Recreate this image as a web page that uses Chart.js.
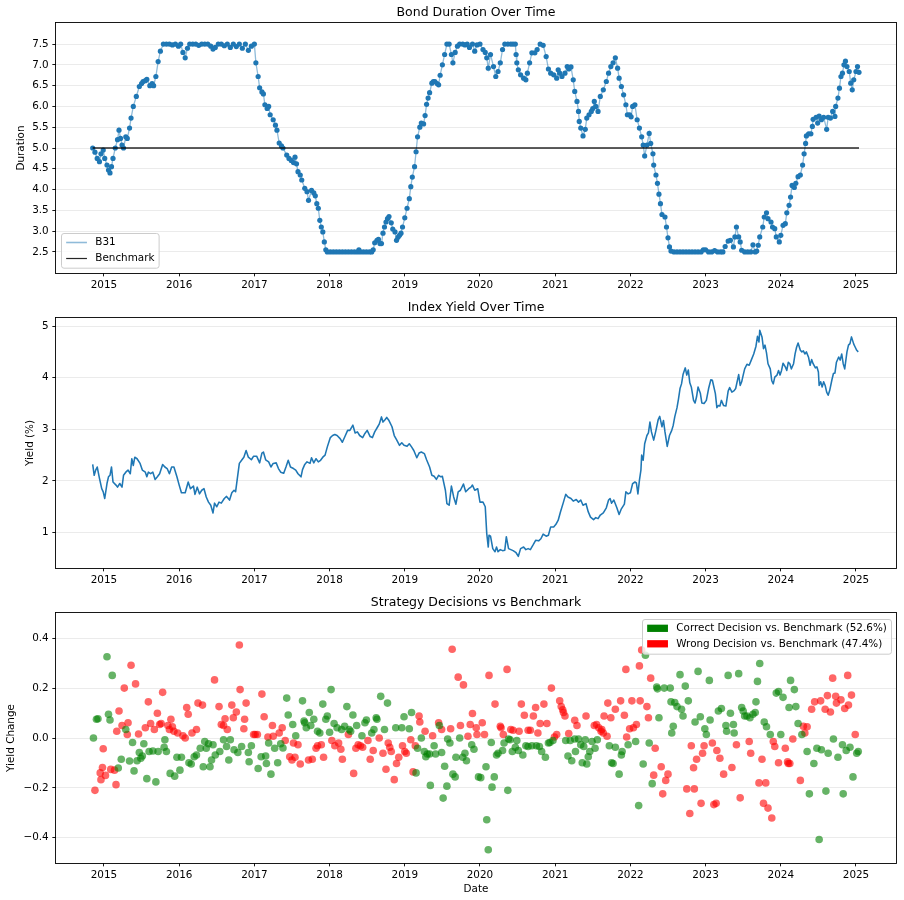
<!DOCTYPE html>
<html>
<head>
<meta charset="utf-8">
<script src="https://cdn.jsdelivr.net/npm/chart.js@4.4.1/dist/chart.umd.min.js"></script>
<style>
html,body{margin:0;padding:0;background:#fff;}
#wrap{position:relative;width:904px;height:900px;background:#fff;}
canvas{position:absolute;left:0;}
</style>
</head>
<body>
<div id="wrap">
<canvas id="c1" width="904" height="295" style="top:0px;width:904px;height:295px"></canvas>
<canvas id="c2" width="904" height="295" style="top:295px;width:904px;height:295px"></canvas>
<canvas id="c3" width="904" height="310" style="top:590px;width:904px;height:310px"></canvas>
</div>
<script>
// ---------------- DATA ----------------
const yearTicks = [2015,2016,2017,2018,2019,2020,2021,2022,2023,2024,2025];
const durationTicks = [2.5,3.0,3.5,4.0,4.5,5.0,5.5,6.0,6.5,7.0,7.5];
const yieldTicks = [1,2,3,4,5];
const changeTicks = [-0.4,-0.2,0.0,0.2,0.4];
const benchmarkValue = 5.0;

const durationDates = [
2014.85,2014.88,2014.91,2014.94,2014.96,2014.99,2015.01,2015.04,2015.06,2015.08,2015.10,2015.12,2015.15,2015.18,2015.20,2015.22,2015.24,2015.26,2015.29,2015.31,
2015.34,2015.36,2015.39,2015.43,2015.47,2015.50,2015.52,2015.55,2015.57,2015.61,2015.64,2015.66,2015.69,2015.72,2015.75,2015.79,2015.83,2015.87,2015.91,2015.95,
2015.99,2016.02,2016.05,2016.08,2016.11,2016.14,2016.18,2016.22,2016.26,2016.30,2016.34,2016.38,2016.42,2016.45,2016.48,2016.52,2016.56,2016.60,2016.64,2016.68,
2016.72,2016.76,2016.80,2016.84,2016.88,2016.92,2016.96,2017.00,2017.02,2017.05,2017.07,2017.10,2017.12,2017.14,2017.17,2017.19,2017.21,2017.25,2017.28,2017.30,
2017.33,2017.36,2017.38,2017.43,2017.46,2017.49,2017.52,2017.54,2017.56,2017.58,2017.61,2017.63,2017.67,2017.70,2017.72,2017.76,2017.79,2017.81,2017.83,2017.85,
2017.87,2017.89,2017.91,2017.93,2017.95,2017.97,2018.01,2018.05,2018.09,2018.13,2018.17,2018.21,2018.25,2018.29,2018.33,2018.37,2018.39,2018.41,2018.45,2018.49,
2018.53,2018.56,2018.58,2018.60,2018.63,2018.65,2018.67,2018.69,2018.71,2018.73,2018.75,2018.77,2018.79,2018.82,2018.84,2018.87,2018.89,2018.91,2018.93,2018.95,
2018.97,2019.00,2019.03,2019.06,2019.08,2019.10,2019.13,2019.15,2019.17,2019.20,2019.22,2019.25,2019.27,2019.29,2019.31,2019.33,2019.36,2019.38,2019.40,2019.43,
2019.45,2019.47,2019.50,2019.53,2019.56,2019.59,2019.62,2019.64,2019.67,2019.70,2019.73,2019.77,2019.80,2019.83,2019.86,2019.90,2019.93,2019.96,2020.00,2020.04,
2020.07,2020.09,2020.11,2020.14,2020.18,2020.21,2020.24,2020.27,2020.30,2020.33,2020.37,2020.41,2020.44,2020.47,2020.48,2020.49,2020.51,2020.54,2020.58,2020.61,
2020.63,2020.66,2020.69,2020.73,2020.76,2020.80,2020.84,2020.88,2020.91,2020.94,2020.98,2021.02,2021.04,2021.06,2021.09,2021.13,2021.16,2021.18,2021.21,2021.24,
2021.26,2021.29,2021.31,2021.32,2021.34,2021.37,2021.40,2021.42,2021.45,2021.48,2021.50,2021.52,2021.54,2021.57,2021.60,2021.64,2021.68,2021.71,2021.74,2021.77,
2021.80,2021.83,2021.85,2021.88,2021.91,2021.94,2021.96,2021.99,2022.01,2022.03,2022.06,2022.09,2022.12,2022.15,2022.17,2022.19,2022.22,2022.25,2022.27,2022.30,
2022.31,2022.34,2022.36,2022.38,2022.40,2022.42,2022.46,2022.48,2022.50,2022.52,2022.54,2022.58,2022.62,2022.66,2022.70,2022.74,2022.78,2022.82,2022.86,2022.90,
2022.94,2022.97,2023.00,2023.04,2023.08,2023.12,2023.16,2023.20,2023.23,2023.26,2023.30,2023.33,2023.37,2023.39,2023.41,2023.44,2023.46,2023.48,2023.52,2023.56,
2023.60,2023.63,2023.66,2023.68,2023.70,2023.72,2023.76,2023.78,2023.81,2023.83,2023.87,2023.89,2023.92,2023.94,2023.98,2024.00,2024.03,2024.06,2024.08,2024.11,
2024.13,2024.15,2024.18,2024.20,2024.23,2024.26,2024.29,2024.31,2024.33,2024.34,2024.37,2024.40,2024.42,2024.43,2024.47,2024.49,2024.51,2024.54,2024.57,2024.61,
2024.63,2024.66,2024.69,2024.72,2024.73,2024.76,2024.78,2024.80,2024.82,2024.84,2024.86,2024.88,2024.91,2024.93,2024.95,2024.97,2025.00,2025.02,2025.04
];
const durationValues = [
5.00,4.90,4.75,4.67,4.86,4.95,4.75,4.59,4.47,4.40,4.55,4.75,5.00,5.20,5.43,5.23,5.07,5.00,5.27,5.23,
5.48,5.72,6.00,6.24,6.48,6.55,6.60,6.62,6.65,6.50,6.55,6.50,6.72,7.08,7.33,7.50,7.50,7.50,7.48,7.50,
7.45,7.50,7.30,7.17,7.40,7.50,7.50,7.50,7.47,7.50,7.50,7.50,7.45,7.38,7.42,7.50,7.50,7.46,7.50,7.42,
7.50,7.44,7.50,7.40,7.50,7.35,7.45,7.50,7.05,6.72,6.45,6.35,6.30,6.04,5.95,6.00,5.80,5.68,5.55,5.43,
5.12,5.05,5.00,4.83,4.75,4.70,4.65,4.78,4.62,4.43,4.35,4.23,4.03,3.95,3.74,3.98,3.92,3.85,3.66,3.55,
3.26,3.10,2.98,2.74,2.55,2.50,2.50,2.50,2.50,2.50,2.50,2.50,2.50,2.50,2.50,2.50,2.55,2.50,2.50,2.50,
2.50,2.50,2.55,2.72,2.78,2.80,2.70,2.70,2.95,3.10,3.22,3.30,3.35,3.20,3.05,2.98,2.78,2.85,2.90,2.95,
3.10,3.32,3.55,3.78,4.07,4.30,4.55,4.91,5.27,5.50,5.60,5.58,5.78,6.05,6.20,6.33,6.56,6.60,6.60,6.55,
6.52,6.75,7.00,7.25,7.50,7.50,7.25,7.05,7.30,7.45,7.50,7.50,7.48,7.50,7.42,7.50,7.33,7.48,7.50,7.37,
7.30,7.17,6.92,7.25,6.96,6.72,6.84,7.05,7.37,7.50,7.50,7.50,7.50,7.50,7.25,7.05,6.88,6.76,6.68,6.64,
6.80,7.05,7.29,7.29,7.37,7.50,7.47,7.20,6.90,6.80,6.76,6.68,6.88,6.80,6.72,6.80,6.96,6.90,6.95,6.64,
6.36,6.12,5.88,5.64,5.48,5.29,5.45,5.72,5.80,5.88,5.95,6.12,6.00,5.88,6.24,6.40,6.60,6.80,6.96,7.05,
7.17,6.92,6.68,6.48,6.28,6.04,5.80,5.80,5.75,6.00,6.04,5.68,5.48,5.27,5.07,4.81,5.07,5.35,5.11,4.86,
4.59,4.35,4.15,3.89,3.66,3.40,3.34,3.10,2.84,2.62,2.52,2.50,2.50,2.50,2.50,2.50,2.50,2.50,2.50,2.50,
2.50,2.55,2.55,2.50,2.50,2.53,2.50,2.50,2.50,2.63,2.76,2.78,2.62,2.86,3.10,2.86,2.74,2.54,2.50,2.50,
2.50,2.67,2.50,2.52,2.66,2.86,3.10,3.34,3.44,3.30,3.22,3.10,3.06,2.86,2.74,2.90,3.14,3.18,3.44,3.62,
3.82,4.10,4.05,4.15,4.31,4.35,4.59,4.86,5.11,5.29,5.34,5.34,5.52,5.69,5.74,5.60,5.77,5.68,5.74,5.45,
5.74,5.72,5.88,5.76,6.00,6.20,6.44,6.72,6.80,7.00,7.09,6.96,6.84,6.56,6.40,6.64,6.84,6.96,6.82
];

const yieldDates = [
2014.85,2014.87,2014.89,2014.91,2014.94,2014.97,2014.99,2015.01,2015.04,2015.06,2015.08,2015.10,2015.12,2015.16,2015.18,2015.21,2015.24,2015.26,2015.29,2015.32,
2015.35,2015.37,2015.39,2015.41,2015.44,2015.48,2015.51,2015.55,2015.57,2015.59,2015.62,2015.65,2015.68,2015.71,2015.74,2015.78,2015.81,2015.84,2015.87,2015.90,
2015.93,2015.97,2016.00,2016.03,2016.08,2016.12,2016.15,2016.19,2016.21,2016.24,2016.27,2016.30,2016.33,2016.36,2016.39,2016.42,2016.45,2016.47,2016.50,2016.53,
2016.56,2016.60,2016.63,2016.67,2016.70,2016.73,2016.75,2016.77,2016.80,2016.83,2016.86,2016.89,2016.92,2016.96,2016.99,2017.03,2017.07,2017.10,2017.12,2017.15,
2017.19,2017.22,2017.25,2017.29,2017.32,2017.35,2017.39,2017.42,2017.45,2017.48,2017.52,2017.55,2017.58,2017.62,2017.64,2017.67,2017.70,2017.74,2017.76,2017.79,
2017.82,2017.85,2017.88,2017.91,2017.94,2017.97,2018.01,2018.04,2018.07,2018.10,2018.14,2018.17,2018.21,2018.24,2018.27,2018.31,2018.34,2018.37,2018.40,2018.44,
2018.47,2018.50,2018.54,2018.57,2018.60,2018.64,2018.66,2018.69,2018.71,2018.74,2018.76,2018.79,2018.83,2018.86,2018.89,2018.93,2018.96,2018.99,2019.03,2019.06,
2019.09,2019.12,2019.16,2019.19,2019.22,2019.26,2019.29,2019.33,2019.36,2019.39,2019.42,2019.45,2019.48,2019.50,2019.54,2019.56,2019.59,2019.62,2019.65,2019.68,
2019.71,2019.74,2019.78,2019.81,2019.85,2019.88,2019.90,2019.93,2019.97,2020.00,2020.04,2020.07,2020.09,2020.11,2020.12,2020.14,2020.17,2020.20,2020.22,2020.24,
2020.27,2020.30,2020.33,2020.35,2020.38,2020.41,2020.44,2020.48,2020.51,2020.54,2020.58,2020.61,2020.64,2020.67,2020.71,2020.74,2020.78,2020.81,2020.84,2020.88,
2020.91,2020.94,2020.98,2021.01,2021.04,2021.07,2021.11,2021.14,2021.17,2021.21,2021.24,2021.28,2021.31,2021.34,2021.37,2021.41,2021.44,2021.47,2021.51,2021.54,
2021.57,2021.60,2021.64,2021.68,2021.71,2021.73,2021.75,2021.78,2021.82,2021.85,2021.88,2021.92,2021.94,2021.97,2022.00,2022.03,2022.06,2022.08,2022.10,2022.12,
2022.14,2022.15,2022.17,2022.19,2022.22,2022.24,2022.26,2022.28,2022.31,2022.34,2022.37,2022.39,2022.42,2022.44,2022.46,2022.49,2022.52,2022.55,2022.57,2022.59,
2022.62,2022.64,2022.66,2022.68,2022.70,2022.73,2022.75,2022.77,2022.79,2022.81,2022.84,2022.86,2022.88,2022.90,2022.93,2022.95,2022.98,2023.01,2023.04,2023.07,
2023.09,2023.13,2023.15,2023.17,2023.19,2023.21,2023.24,2023.27,2023.30,2023.32,2023.35,2023.38,2023.40,2023.44,2023.46,2023.48,2023.50,2023.52,2023.55,2023.58,
2023.61,2023.64,2023.67,2023.69,2023.71,2023.72,2023.75,2023.77,2023.79,2023.81,2023.83,2023.86,2023.88,2023.90,2023.92,2023.95,2023.97,2023.99,2024.01,2024.03,
2024.06,2024.08,2024.10,2024.12,2024.14,2024.17,2024.19,2024.21,2024.23,2024.26,2024.28,2024.30,2024.32,2024.34,2024.37,2024.39,2024.41,2024.43,2024.46,2024.48,
2024.50,2024.51,2024.53,2024.55,2024.57,2024.59,2024.61,2024.63,2024.65,2024.68,2024.70,2024.72,2024.74,2024.77,2024.79,2024.81,2024.83,2024.85,2024.88,2024.90,
2024.92,2024.94,2024.97,2024.99,2025.01,2025.03
];
const yieldValues = [
2.32,2.11,2.21,2.27,2.05,1.85,1.79,1.66,1.95,2.08,2.11,2.27,1.98,1.92,1.88,1.95,1.88,2.11,2.17,2.21,
2.14,2.43,2.30,2.46,2.43,2.34,2.21,2.17,2.08,2.17,2.14,2.17,2.03,2.08,2.14,2.32,2.27,2.24,2.14,2.27,
2.27,2.08,1.92,1.77,1.77,1.98,1.85,1.90,1.74,1.88,1.75,1.82,1.85,1.69,1.59,1.53,1.38,1.57,1.50,1.59,
1.57,1.66,1.70,1.63,1.77,1.82,1.79,2.01,2.34,2.40,2.46,2.59,2.46,2.41,2.48,2.48,2.35,2.54,2.56,2.41,
2.37,2.27,2.34,2.35,2.24,2.17,2.15,2.27,2.40,2.27,2.24,2.21,2.14,2.08,2.22,2.32,2.37,2.34,2.45,2.35,
2.43,2.37,2.40,2.46,2.50,2.66,2.84,2.88,2.90,2.88,2.82,2.75,2.88,2.98,2.98,3.08,2.93,2.95,2.88,2.84,
2.92,2.98,2.86,2.84,2.95,3.05,3.10,3.24,3.14,3.19,3.23,3.17,3.05,2.88,2.80,2.69,2.74,2.69,2.67,2.72,
2.66,2.59,2.45,2.54,2.56,2.53,2.41,2.27,2.11,2.09,2.03,2.11,2.08,2.09,1.82,1.56,1.53,1.90,1.69,1.55,
1.79,1.82,1.94,1.79,1.85,1.88,1.92,1.82,1.85,1.59,1.59,1.50,0.98,0.72,0.95,0.93,0.69,0.63,0.72,0.63,
0.67,0.65,0.66,0.92,0.69,0.67,0.65,0.61,0.54,0.69,0.72,0.67,0.69,0.67,0.77,0.85,0.84,0.88,0.97,0.93,
0.95,1.11,1.11,1.16,1.24,1.40,1.59,1.74,1.69,1.66,1.61,1.64,1.59,1.63,1.53,1.56,1.40,1.30,1.25,1.29,
1.27,1.34,1.38,1.48,1.63,1.66,1.57,1.63,1.48,1.35,1.46,1.55,1.79,1.75,1.77,1.95,1.98,1.96,1.75,2.01,
2.21,2.50,2.40,2.72,2.88,2.93,3.14,2.95,2.79,2.98,3.19,3.25,3.05,3.17,2.95,2.67,2.88,2.98,3.08,3.24,
3.42,3.59,3.79,3.88,4.06,4.19,4.05,4.15,3.90,3.82,3.56,3.51,3.63,3.82,3.70,3.51,3.50,3.56,3.79,3.96,
3.95,3.69,3.42,3.46,3.45,3.56,3.46,3.45,3.74,3.81,3.72,3.75,3.79,4.06,3.85,3.92,4.05,4.17,4.26,4.24,
4.35,4.46,4.61,4.80,4.69,4.92,4.79,4.56,4.63,4.48,4.27,4.17,3.94,3.88,4.01,4.05,4.14,4.05,4.14,4.28,
4.21,4.14,4.30,4.27,4.17,4.27,4.46,4.59,4.67,4.53,4.50,4.52,4.46,4.50,4.39,4.24,4.35,4.27,4.19,4.21,
4.11,3.85,3.92,3.82,3.92,3.85,3.72,3.66,3.75,3.96,4.08,4.09,4.30,4.40,4.34,4.46,4.27,4.17,4.50,4.63,
4.66,4.79,4.65,4.59,4.53,4.50
];

const correctDates = [
2014.86,2014.90,2014.92,2015.04,2015.06,2015.08,2015.11,2015.19,2015.23,2015.29,2015.34,2015.38,2015.40,2015.44,2015.47,2015.49,2015.51,2015.53,2015.57,2015.60,
2015.65,2015.69,2015.72,2015.80,2015.81,2015.83,2015.88,2015.94,2015.97,2016.01,2016.03,2016.13,2016.16,2016.20,2016.23,2016.28,2016.32,2016.34,2016.36,2016.39,
2016.41,2016.43,2016.45,2016.48,2016.54,2016.59,2016.63,2016.66,2016.68,2016.73,2016.78,2016.83,2016.92,2016.93,2016.96,2017.05,2017.09,2017.15,2017.16,2017.19,
2017.22,2017.27,2017.31,2017.35,2017.38,2017.43,2017.45,2017.51,2017.55,2017.64,2017.66,2017.67,2017.69,2017.73,2017.75,2017.79,2017.84,2017.87,2017.91,2017.95,
2017.97,2018.00,2018.02,2018.06,2018.10,2018.16,2018.20,2018.23,2018.26,2018.28,2018.31,2018.36,2018.43,2018.47,2018.49,2018.56,2018.59,2018.62,2018.63,2018.68,
2018.73,2018.77,2018.88,2018.96,2018.99,2019.06,2019.09,2019.15,2019.17,2019.22,2019.26,2019.28,2019.30,2019.33,2019.34,2019.39,2019.41,2019.46,2019.49,2019.51,
2019.53,2019.56,2019.57,2019.60,2019.64,2019.67,2019.68,2019.73,2019.77,2019.80,2019.82,2019.89,2019.92,2019.98,2020.01,2020.08,2020.09,2020.11,2020.15,2020.16,
2020.19,2020.22,2020.24,2020.30,2020.32,2020.37,2020.38,2020.40,2020.43,2020.47,2020.49,2020.51,2020.57,2020.61,2020.64,2020.69,2020.75,2020.79,2020.82,2020.87,
2020.91,2020.93,2020.97,2021.14,2021.17,2021.20,2021.22,2021.26,2021.27,2021.31,2021.34,2021.36,2021.38,2021.40,2021.42,2021.44,2021.46,2021.49,2021.53,2021.56,
2021.72,2021.75,2021.77,2021.80,2021.85,2021.88,2021.89,2021.97,2022.07,2022.11,2022.17,2022.20,2022.25,2022.29,2022.35,2022.36,2022.38,2022.45,2022.53,2022.54,
2022.55,2022.57,2022.59,2022.62,2022.66,2022.68,2022.70,2022.73,2022.77,2022.86,2022.90,2022.93,2022.99,2023.01,2023.05,2023.06,2023.17,2023.21,2023.27,2023.28,
2023.30,2023.33,2023.37,2023.38,2023.44,2023.48,2023.50,2023.52,2023.55,2023.59,2023.63,2023.66,2023.67,2023.69,2023.72,2023.78,2023.81,2023.86,2023.94,2023.97,
2024.00,2024.03,2024.11,2024.13,2024.18,2024.20,2024.23,2024.28,2024.35,2024.38,2024.44,2024.48,2024.51,2024.54,2024.60,2024.63,2024.70,2024.76,2024.82,2024.83,
2024.87,2024.92,2024.96,2025.01,2025.03
];
const correctValues = [
0.000,0.075,0.077,0.326,0.095,0.072,0.251,-0.120,-0.085,0.034,-0.092,-0.018,-0.132,-0.091,-0.058,-0.081,-0.072,-0.023,-0.163,-0.054,
-0.052,-0.176,-0.054,-0.037,-0.007,-0.054,-0.142,-0.153,-0.077,-0.129,-0.077,-0.099,-0.104,-0.075,-0.068,-0.041,-0.115,-0.014,-0.041,-0.023,
-0.115,-0.088,-0.027,-0.068,-0.054,-0.007,-0.034,-0.088,-0.007,-0.047,-0.058,-0.034,-0.058,-0.095,-0.031,-0.122,-0.075,-0.072,-0.102,-0.020,
-0.145,-0.041,-0.099,-0.023,-0.040,0.160,0.092,0.054,0.009,0.149,0.068,0.061,0.041,0.102,0.050,0.075,0.027,0.020,0.136,0.075,
0.088,0.023,0.194,0.058,0.041,0.034,0.047,0.126,0.034,0.027,0.092,0.050,0.009,0.061,0.072,0.020,0.034,0.081,0.075,0.167,
0.034,0.140,0.041,0.041,0.085,0.037,0.102,-0.140,-0.041,0.000,-0.054,-0.075,-0.064,-0.064,-0.190,-0.031,-0.064,0.050,-0.058,-0.241,
-0.113,-0.193,-0.004,-0.020,-0.145,-0.156,-0.077,0.000,-0.077,-0.061,-0.091,-0.027,-0.045,-0.156,-0.159,-0.115,-0.328,-0.448,-0.018,-0.197,
-0.156,-0.068,-0.061,-0.050,-0.020,-0.210,-0.004,-0.007,-0.054,-0.037,-0.010,-0.050,-0.068,-0.031,-0.034,-0.031,-0.031,-0.034,-0.054,-0.077,
-0.020,-0.018,-0.010,-0.010,-0.072,-0.010,-0.091,-0.004,-0.054,-0.004,-0.027,-0.099,-0.034,-0.007,-0.104,-0.075,-0.054,-0.014,-0.041,-0.007,
-0.031,-0.099,-0.102,-0.037,-0.145,-0.068,-0.054,-0.027,-0.014,-0.271,-0.104,0.332,-0.020,-0.183,0.204,0.197,0.081,0.200,0.200,0.145,
0.020,0.047,0.142,0.126,0.254,0.115,0.088,0.208,0.149,0.064,0.267,0.085,0.037,0.014,0.231,0.072,0.108,0.118,0.050,0.027,
0.251,0.099,0.054,0.020,0.258,0.122,0.108,0.088,0.088,0.081,0.095,0.102,0.145,0.227,0.299,0.064,0.045,0.014,0.180,0.186,
0.014,0.163,0.122,0.231,0.194,0.126,0.058,0.014,-0.054,-0.224,-0.102,-0.041,-0.407,-0.047,-0.213,-0.061,-0.004,-0.077,-0.027,-0.224,
-0.050,-0.037,-0.156,-0.061,-0.054
];

const wrongDates = [
2014.88,2014.95,2014.96,2014.98,2014.99,2015.02,2015.09,2015.14,2015.16,2015.17,2015.20,2015.24,2015.27,2015.31,2015.32,2015.36,2015.42,2015.46,2015.55,2015.59,
2015.62,2015.67,2015.71,2015.74,2015.76,2015.78,2015.85,2015.87,2015.89,2015.91,2015.93,2015.98,2016.05,2016.08,2016.10,2016.12,2016.17,2016.23,2016.25,2016.31,
2016.47,2016.53,2016.56,2016.59,2016.61,2016.64,2016.70,2016.72,2016.76,2016.80,2016.81,2016.86,2016.87,2016.89,2016.99,2017.01,2017.04,2017.10,2017.13,2017.18,
2017.24,2017.25,2017.33,2017.37,2017.41,2017.47,2017.50,2017.52,2017.54,2017.58,2017.61,2017.72,2017.77,2017.82,2017.84,2017.89,2017.92,2018.03,2018.07,2018.12,
2018.15,2018.17,2018.25,2018.32,2018.35,2018.38,2018.41,2018.44,2018.51,2018.54,2018.58,2018.66,2018.71,2018.75,2018.78,2018.80,2018.82,2018.86,2018.89,2018.92,
2018.97,2019.00,2019.02,2019.08,2019.11,2019.14,2019.19,2019.20,2019.27,2019.37,2019.45,2019.49,2019.61,2019.63,2019.71,2019.74,2019.78,2019.84,2019.87,2019.90,
2019.95,2019.96,2020.03,2020.06,2020.12,2020.20,2020.27,2020.28,2020.31,2020.36,2020.41,2020.44,2020.52,2020.55,2020.59,2020.64,2020.67,2020.71,2020.74,2020.77,
2020.80,2020.85,2020.89,2020.95,2020.99,2021.02,2021.06,2021.08,2021.10,2021.11,2021.13,2021.18,2021.26,2021.29,2021.41,2021.52,2021.55,2021.58,2021.61,2021.62,
2021.64,2021.65,2021.69,2021.70,2021.74,2021.80,2021.87,2021.92,2021.94,2021.95,2021.99,2022.02,2022.04,2022.08,2022.12,2022.13,2022.15,2022.22,2022.24,2022.27,
2022.31,2022.33,2022.41,2022.43,2022.47,2022.50,2022.75,2022.79,2022.81,2022.84,2022.85,2022.88,2022.94,2022.96,2022.98,2023.09,2023.11,2023.14,2023.15,2023.19,
2023.24,2023.35,2023.41,2023.46,2023.58,2023.60,2023.71,2023.75,2023.77,2023.80,2023.83,2023.88,2023.90,2023.92,2023.97,2024.06,2024.09,2024.10,2024.12,2024.16,
2024.26,2024.30,2024.32,2024.35,2024.41,2024.45,2024.53,2024.59,2024.62,2024.66,2024.69,2024.73,2024.74,2024.80,2024.85,2024.89,2024.90,2024.94,2024.99
];
const wrongValues = [
-0.210,-0.140,-0.167,-0.118,-0.043,-0.150,-0.126,-0.129,-0.187,0.027,0.108,0.050,0.200,0.014,0.061,0.292,0.217,0.016,0.041,0.145,
0.058,0.034,0.099,0.054,0.058,0.183,0.050,0.034,0.075,0.045,0.027,0.020,0.009,0.000,0.122,0.095,0.020,0.034,0.140,0.132,
0.233,0.126,0.054,0.050,0.077,0.034,0.132,0.081,0.104,0.373,0.194,0.037,0.075,0.140,0.014,0.014,0.014,0.176,0.085,0.004,
0.050,0.007,0.020,0.041,-0.010,-0.075,-0.088,-0.020,-0.077,-0.027,-0.104,-0.088,-0.085,-0.041,-0.031,-0.027,-0.077,-0.010,-0.031,-0.020,
-0.045,-0.085,0.014,-0.142,-0.041,-0.027,-0.031,-0.037,-0.010,-0.085,-0.050,0.000,-0.061,-0.125,-0.020,-0.037,-0.054,-0.167,-0.102,-0.077,
-0.031,-0.054,-0.061,-0.007,-0.136,-0.031,0.088,0.064,0.027,0.009,0.061,0.034,0.037,0.356,0.244,0.050,0.213,0.007,0.054,0.098,
0.041,0.014,0.061,0.014,0.251,0.136,0.047,0.041,0.014,0.275,0.034,0.031,0.027,0.136,0.091,0.031,0.031,0.088,0.122,0.020,
0.058,0.136,0.058,0.200,0.004,0.014,0.149,0.126,0.113,0.102,0.088,0.018,0.071,0.050,0.088,0.050,0.054,0.041,0.027,0.034,
0.020,0.088,0.007,0.140,0.081,0.115,0.149,0.091,0.275,0.004,0.037,0.149,0.041,0.054,0.289,0.149,0.353,0.126,0.081,0.240,
-0.149,-0.041,-0.115,-0.224,-0.170,-0.145,-0.204,-0.303,-0.031,-0.119,-0.204,-0.085,-0.262,-0.061,-0.031,-0.020,-0.267,-0.262,-0.050,-0.081,
-0.145,-0.118,-0.027,-0.240,-0.014,-0.061,-0.180,-0.085,-0.262,-0.180,-0.281,-0.321,-0.014,-0.034,-0.099,-0.041,-0.095,-0.102,-0.102,-0.004,
-0.170,0.047,0.020,0.045,0.115,0.145,0.149,0.115,0.170,0.104,0.240,0.167,0.140,0.153,0.118,0.251,0.132,0.172,0.014
];

// ---------------- STYLE / HELPERS ----------------
const FONT = '"DejaVu Sans", sans-serif';
Chart.defaults.font.family = FONT;
Chart.defaults.color = '#000';
const TICK_FS = 10.4, TITLE_FS = 12.5;

function pts(xs, ys) { return xs.map((x, i) => ({x: x, y: ys[i]})); }

// Axes title centred over the plotting area (matplotlib style)
const axTitle = {
  id: 'axTitle',
  afterDraw(chart, args, opts) {
    if (!opts || !opts.text) return;
    const a = chart.chartArea, ctx = chart.ctx;
    ctx.save();
    ctx.font = TITLE_FS + 'px ' + FONT;
    ctx.fillStyle = '#000';
    ctx.textAlign = 'center';
    ctx.textBaseline = 'middle';
    ctx.fillText(opts.text, (a.left + a.right) / 2, opts.y);
    ctx.restore();
  }
};

const framePlugin = {
  id: 'frame',
  afterDatasetsDraw(chart) {
    const a = chart.chartArea, ctx = chart.ctx;
    ctx.save();
    ctx.strokeStyle = '#000';
    ctx.lineWidth = 0.9;
    const l = Math.round(a.left) - 0.5, t = Math.round(a.top) - 0.5;
    const r = Math.round(a.right) + 0.5, b = Math.round(a.bottom) + 0.5;
    ctx.strokeRect(l, t, r - l, b - t);
    ctx.restore();
  }
};

const mplLegend = {
  id: 'mplLegend',
  afterDraw(chart, args, opts) {
    if (!opts || !opts.items) return;
    const ctx = chart.ctx, a = chart.chartArea, fs = TICK_FS;
    ctx.save();
    ctx.font = fs + 'px ' + FONT;
    const pad = 0.4 * fs, hl = 2 * fs, htp = 0.8 * fs, axPad = 0.5 * fs, rowGap = 15.5, h = 34.7;
    const tw = Math.max(...opts.items.map(it => ctx.measureText(it.label).width));
    const w = pad + hl + htp + tw + pad + 1;
    let x, y;
    if (opts.loc === 'upper right') { x = a.right - axPad - w; y = a.top + axPad; }
    else { x = a.left + axPad; y = a.bottom - axPad - h; }
    x = Math.round(x) + 0.5; y = Math.round(y) + 0.5;
    const rr = 2.5;
    ctx.beginPath();
    ctx.moveTo(x + rr, y);
    ctx.lineTo(x + w - rr, y); ctx.arcTo(x + w, y, x + w, y + rr, rr);
    ctx.lineTo(x + w, y + h - rr); ctx.arcTo(x + w, y + h, x + w - rr, y + h, rr);
    ctx.lineTo(x + rr, y + h); ctx.arcTo(x, y + h, x, y + h - rr, rr);
    ctx.lineTo(x, y + rr); ctx.arcTo(x, y, x + rr, y, rr);
    ctx.closePath();
    ctx.fillStyle = 'rgba(255,255,255,0.8)';
    ctx.fill();
    ctx.strokeStyle = '#cccccc';
    ctx.lineWidth = 1;
    ctx.stroke();
    opts.items.forEach((it, i) => {
      const cy = y + 8.8 + i * rowGap;
      const hx = x + pad + 0.5;
      if (it.type === 'line') {
        ctx.beginPath();
        ctx.strokeStyle = it.color;
        ctx.lineWidth = it.width;
        ctx.moveTo(hx, Math.round(cy) + 0.5);
        ctx.lineTo(hx + hl, Math.round(cy) + 0.5);
        ctx.stroke();
      } else {
        ctx.fillStyle = it.color;
        const ph = 0.7 * fs;
        ctx.fillRect(hx, cy - ph / 2, hl, ph);
      }
      ctx.fillStyle = '#000';
      ctx.textBaseline = 'middle';
      ctx.textAlign = 'left';
      ctx.fillText(it.label, hx + hl + htp, cy);
    });
    ctx.restore();
  }
};

Chart.register(framePlugin, mplLegend, axTitle);

function makeOptions(cfg) {
  return {
    responsive: false,
    maintainAspectRatio: false,
    animation: false,
    devicePixelRatio: 1,
    events: [],
    layout: { padding: { left: 0, right: 8, top: 23.3, bottom: 0 } },
    plugins: {
      legend: { display: false },
      tooltip: { enabled: false },
      title: { display: false },
      axTitle: { text: cfg.title, y: 12.7 },
      mplLegend: cfg.legend || {}
    },
    scales: {
      x: {
        type: 'linear', position: 'bottom',
        min: 2014.362, max: 2025.532,
        afterBuildTicks: s => { s.ticks = yearTicks.map(v => ({value: v})); },
        afterFit: s => { s.height = cfg.xHeight; },
        ticks: { autoSkip: false, maxRotation: 0, minRotation: 0, padding: 2.4, color: '#000',
                 font: { size: TICK_FS }, callback: v => String(v) },
        grid: { display: true, drawOnChartArea: false, drawTicks: true, tickLength: 3.65,
                tickColor: '#000', tickWidth: 0.9 },
        border: { display: false },
        title: cfg.xTitle ? { display: true, text: cfg.xTitle, color: '#000',
                 font: { size: TICK_FS, lineHeight: 1.2 }, padding: { top: 0, bottom: 4.5 } } : { display: false }
      },
      y: {
        type: 'linear', position: 'left',
        min: cfg.ymin, max: cfg.ymax,
        afterBuildTicks: s => { s.ticks = cfg.yticks.map(v => ({value: v})); },
        afterFit: s => { s.width = 56; },
        ticks: { autoSkip: false, padding: 3.65, color: '#000', font: { size: TICK_FS }, callback: cfg.yfmt },
        grid: { display: true, drawOnChartArea: true, color: '#ebebeb', lineWidth: 1,
                drawTicks: true, tickLength: 3.65, tickColor: '#000', tickWidth: 0.9 },
        border: { display: false },
        title: { display: true, text: cfg.yTitle, color: '#000',
                 font: { size: TICK_FS, lineHeight: 1.2 }, padding: { top: cfg.yTitlePad, bottom: 0 } }
      }
    }
  };
}

// ---------------- CHART 1: Duration ----------------
new Chart(document.getElementById('c1'), {
  type: 'line',
  data: {
    datasets: [
      {
        label: 'Benchmark',
        data: [{x: durationDates[0], y: benchmarkValue}, {x: durationDates[durationDates.length - 1], y: benchmarkValue}],
        borderColor: 'rgba(0,0,0,0.85)', borderWidth: 1.3, pointRadius: 0, tension: 0
      },
      {
        label: 'B31',
        data: pts(durationDates, durationValues),
        borderColor: 'rgba(31,119,180,0.5)', borderWidth: 1.3,
        pointRadius: 2.6, pointBorderWidth: 0, pointBackgroundColor: '#1f77b4',
        pointHoverRadius: 2.6, tension: 0
      }
    ]
  },
  options: makeOptions({
    title: 'Bond Duration Over Time', yTitle: 'Duration', yTitlePad: 15.2,
    ymin: 2.0, ymax: 8.0, yticks: durationTicks, yfmt: v => Number(v).toFixed(1),
    xHeight: 22.3,
    legend: { loc: 'lower left', items: [
      { type: 'line', color: 'rgba(31,119,180,0.5)', width: 1.56, label: 'B31' },
      { type: 'line', color: 'rgba(0,0,0,0.85)', width: 1.2, label: 'Benchmark' }
    ]}
  })
});

// ---------------- CHART 2: Yield ----------------
new Chart(document.getElementById('c2'), {
  type: 'line',
  data: {
    datasets: [{
      label: 'Index Yield',
      data: pts(yieldDates, yieldValues),
      borderColor: '#1f77b4', borderWidth: 1.56, pointRadius: 0, tension: 0,
      borderJoinStyle: 'round'
    }]
  },
  options: makeOptions({
    title: 'Index Yield Over Time', yTitle: 'Yield (%)', yTitlePad: 23.8,
    ymin: 0.32, ymax: 5.15, yticks: yieldTicks, yfmt: v => String(v),
    xHeight: 22.3
  })
});

// ---------------- CHART 3: Decisions ----------------
new Chart(document.getElementById('c3'), {
  type: 'scatter',
  data: {
    datasets: [
      {
        label: 'Correct Decision vs. Benchmark (52.6%)',
        data: pts(correctDates, correctValues),
        pointRadius: 3.8, pointBorderWidth: 0, pointBackgroundColor: 'rgba(0,128,0,0.6)',
        pointHoverRadius: 3.8
      },
      {
        label: 'Wrong Decision vs. Benchmark (47.4%)',
        data: pts(wrongDates, wrongValues),
        pointRadius: 3.8, pointBorderWidth: 0, pointBackgroundColor: 'rgba(255,0,0,0.6)',
        pointHoverRadius: 3.8
      }
    ]
  },
  options: makeOptions({
    title: 'Strategy Decisions vs Benchmark', yTitle: 'Yield Change', yTitlePad: 5.4,
    ymin: -0.5, ymax: 0.5, yticks: changeTicks,
    yfmt: v => (v < -1e-9 ? '\u2212' : '') + Math.abs(v).toFixed(1),
    xHeight: 37.3, xTitle: 'Date',
    legend: { loc: 'upper right', items: [
      { type: 'patch', color: '#008000', label: 'Correct Decision vs. Benchmark (52.6%)' },
      { type: 'patch', color: '#ff0000', label: 'Wrong Decision vs. Benchmark (47.4%)' }
    ]}
  })
});
</script>
</body>
</html>
